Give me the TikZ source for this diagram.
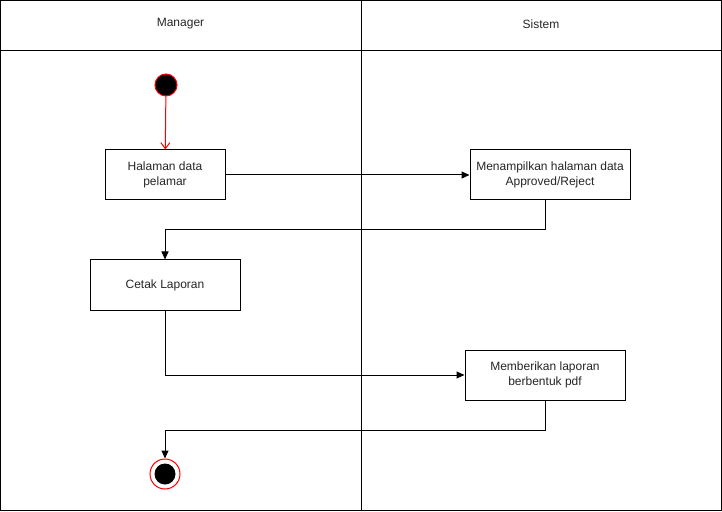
\documentclass[tikz,border=0pt]{standalone}
\usepackage{fontspec}
\setmainfont{Liberation Sans}
\usetikzlibrary{arrows.meta}
\begin{document}
\begin{tikzpicture}[x=1bp,y=-1bp,line width=1bp,
  act/.style={draw=black,fill=white,minimum height=50bp,align=center,inner sep=2bp,text=black!85,font=\fontsize{12bp}{14.5bp}\selectfont},
  flow/.style={draw=black,-{Triangle[length=8bp,width=7bp]}},
  lbl/.style={text=black!85,font=\fontsize{12bp}{14bp}\selectfont}]
\useasboundingbox (0,0) rectangle (722,512);
% swimlanes
\draw (0.5,0.5) rectangle (721.5,510.5);
\draw (0.5,50.5) -- (721.5,50.5);
\draw (361,0.5) -- (361,510.5);
\node[lbl] (hm) at (180.5,24) {Manager};
\node[lbl] (hs) at (541,24) {Sistem};
% nodes
\node[circle,draw=red,fill=black,minimum size=22bp,inner sep=0pt] (start) at (166,85) {};
\node[act,minimum width=120bp] (b1) at (165,175) {Halaman data\\pelamar};
\node[act,minimum width=160bp] (b2) at (550,175) {Menampilkan halaman data\\Approved/Reject};
\node[act,minimum width=150bp] (b3) at (165,285) {Cetak Laporan};
\node[act,minimum width=160bp] (b4) at (545,375) {Memberikan laporan\\berbentuk pdf};
\node[circle,draw=red,fill=white,minimum size=30bp,inner sep=0pt] (end) at (165,474) {};
\node[circle,fill=black,minimum size=21bp,inner sep=0pt] (endin) at (165,474) {};
% connectors
\draw[red,-{Straight Barb[length=6bp,width=9bp]}] (start) -- (b1);
\draw[flow] (b1) -- (b2);
\draw[flow] (b2.south -| 545,0) |- (165,230) -- (b3.north);
\draw[flow] (b3.south) |- (b4.west);
\draw[flow] (b4.south) |- (165,430) -- (end.north);
\end{tikzpicture}
\end{document}
